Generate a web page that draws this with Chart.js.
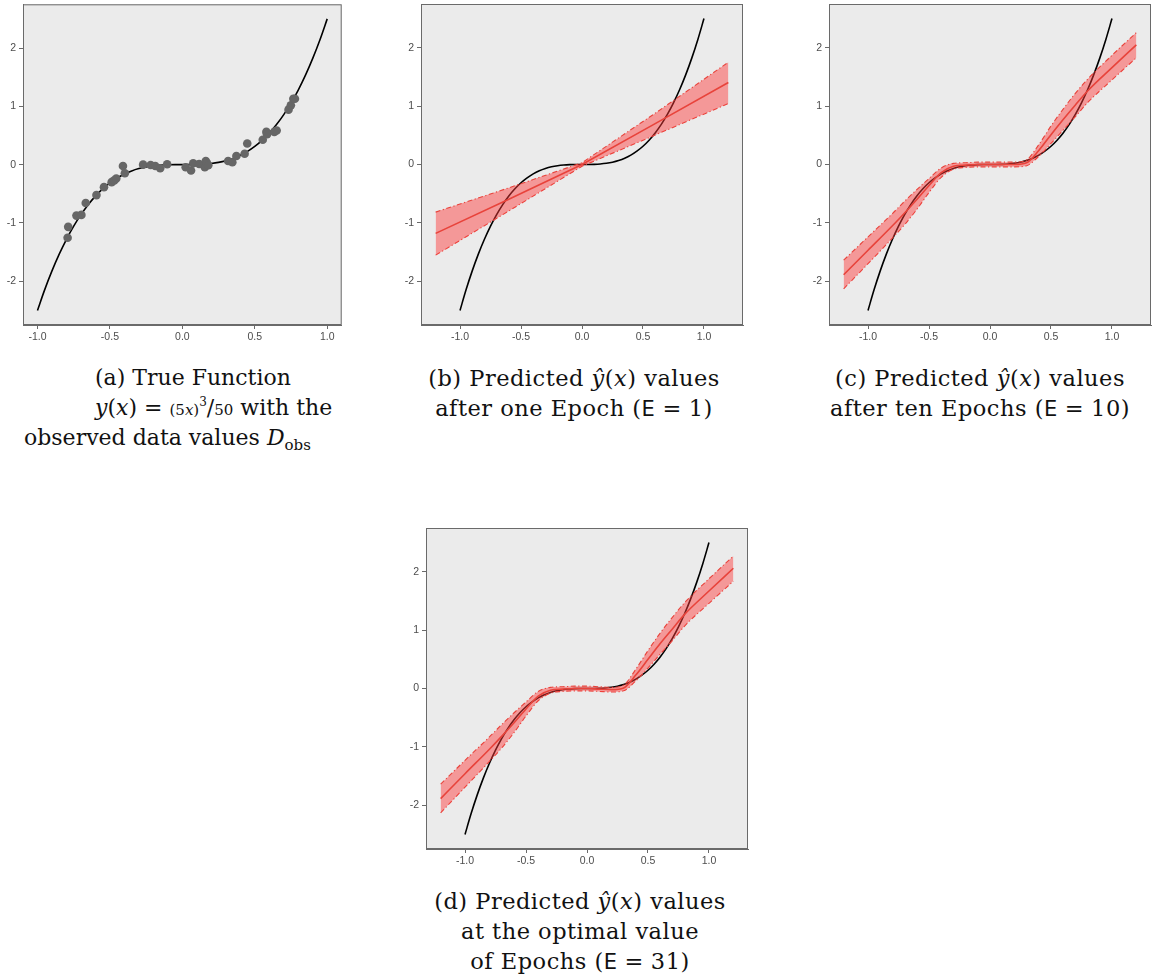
<!DOCTYPE html>
<html>
<head>
    <title>Epoch comparison</title>
    <style>
        html, body { margin: 0; padding: 0; background: #fff; overflow: hidden; }
        body { width: 1152px; height: 980px; position: relative; }
        .panel { position: absolute; }
        .cap { position: absolute; text-align: center; font-family: "DejaVu Serif", serif; font-size: 22.5px; letter-spacing: 0.5px; color: #111; white-space: nowrap; }
        .cap div { height: 30px; line-height: 30px; }
        .cap.left { text-align: left; font-size: 22px; letter-spacing: 0; }
        .cap.left div { position: absolute; }
        .cap i { font-style: italic; }
        .sans { font-family: "DejaVu Sans", sans-serif; font-size: 21px; }
        .eq { margin: 0 7px; }
        .sm { font-size: 15px; }
        .cap sub { font-size: 15px; vertical-align: -5px; line-height: 0; }
        .cap sup { font-size: 12px; vertical-align: 9px; line-height: 0; }
    </style>
</head>
<body>
    <div class="panel" id="pa"><canvas id="chartA"></canvas></div>
    <div class="panel" id="pb"><canvas id="chartB"></canvas></div>
    <div class="panel" id="pc"><canvas id="chartC"></canvas></div>
    <div class="panel" id="pd"><canvas id="chartD"></canvas></div>

    <div class="cap left" style="left:0px; top:363px; width:360px;">
        <div style="left:95px; top:0px;">(a) True Function</div>
        <div style="left:95px; top:30px;"><i>y</i>(<i>x</i>)<span class="eq">=</span><span class="sm">(5<i>x</i>)</span><sup>3</sup>/<span class="sm">50</span> with the</div>
        <div style="left:24px; top:60px;">observed data values <i>D</i><sub>obs</sub></div>
    </div>
    <div class="cap" style="left:374px; top:363px; width:400px;">
        <div>(b) Predicted <i>ŷ</i>(<i>x</i>) values</div>
        <div>after one Epoch (<span class="sans">E</span><span class="eq">=</span>1)</div>
    </div>
    <div class="cap" style="left:780px; top:363px; width:400px;">
        <div>(c) Predicted <i>ŷ</i>(<i>x</i>) values</div>
        <div>after ten Epochs (<span class="sans">E</span><span class="eq">=</span>10)</div>
    </div>
    <div class="cap" style="left:380px; top:886px; width:400px;">
        <div>(d) Predicted <i>ŷ</i>(<i>x</i>) values</div>
        <div>at the optimal value</div>
        <div>of Epochs (<span class="sans">E</span><span class="eq">=</span>31)</div>
    </div>

    <script src="https://cdn.jsdelivr.net/npm/chart.js"></script>
    <script>
        // true function y = (5x)^3 / 50, sampled on [-1, 1]
        const curveX = [-1.0, -0.95, -0.9, -0.85, -0.8, -0.75, -0.7, -0.65, -0.6, -0.55, -0.5, -0.45, -0.4, -0.35, -0.3, -0.25, -0.2, -0.15, -0.1, -0.05,
                        0.0, 0.05, 0.1, 0.15, 0.2, 0.25, 0.3, 0.35, 0.4, 0.45, 0.5, 0.55, 0.6, 0.65, 0.7, 0.75, 0.8, 0.85, 0.9, 0.95, 1.0];
        const curveY = [-2.5, -2.143, -1.8225, -1.535, -1.28, -1.055, -0.8575, -0.687, -0.54, -0.416, -0.3125, -0.228, -0.16, -0.107, -0.0675, -0.039, -0.02, -0.0084, -0.0025, -0.0003,
                        0.0, 0.0003, 0.0025, 0.0084, 0.02, 0.039, 0.0675, 0.107, 0.16, 0.228, 0.3125, 0.416, 0.54, 0.687, 0.8575, 1.055, 1.28, 1.535, 1.8225, 2.143, 2.5];

        // observed (noisy) samples
        const obsX = [-0.792, -0.788, -0.731, -0.697, -0.667, -0.593, -0.541, -0.488, -0.470, -0.456, -0.410, -0.397, -0.271, -0.219, -0.187, -0.153, -0.105,
                      0.023, 0.060, 0.075, 0.116, 0.162, 0.155, 0.170, 0.179, 0.316, 0.345, 0.373, 0.430, 0.448, 0.555, 0.580, 0.585, 0.635, 0.651, 0.733, 0.749, 0.766, 0.777];
        const obsY = [-1.254, -1.067, -0.874, -0.862, -0.658, -0.522, -0.386, -0.300, -0.270, -0.238, -0.022, -0.147, 0.0, -0.005, -0.022, -0.062, 0.007,
                      -0.045, -0.100, 0.023, 0.012, 0.063, -0.045, 0.025, -0.010, 0.063, 0.040, 0.148, 0.188, 0.364, 0.426, 0.562, 0.523, 0.562, 0.586, 0.943, 1.017, 1.131, 1.131];

        // prediction after 1 epoch: mean and band
        const bandX1 = [-1.2, -0.6, 0.0, 0.6, 1.2];
        const mean1  = [-1.18, -0.595, 0.0, 0.70, 1.406];
        const upper1 = [-0.816, -0.40, 0.03, 0.878, 1.752];
        const lower1 = [-1.553, -0.796, -0.03, 0.505, 1.044];

        // prediction after 10 epochs
        const bandX10 = [-1.2, -1.0, -0.8, -0.7, -0.6, -0.5, -0.4, -0.3, -0.2, -0.1, 0.0, 0.1, 0.2, 0.3, 0.4, 0.5, 0.6, 0.7, 0.8, 1.0, 1.2];
        const mean10  = [-1.89, -1.47, -1.05, -0.83, -0.60, -0.36, -0.14, -0.03, -0.01, 0.0, 0.0, 0.0, 0.0, 0.03, 0.24, 0.51, 0.77, 1.02, 1.26, 1.66, 2.05];
        const upper10 = [-1.64, -1.24, -0.84, -0.63, -0.43, -0.24, -0.06, 0.02, 0.03, 0.04, 0.04, 0.04, 0.04, 0.08, 0.34, 0.66, 0.95, 1.22, 1.46, 1.87, 2.26];
        const lower10 = [-2.13, -1.70, -1.26, -1.03, -0.77, -0.48, -0.22, -0.08, -0.05, -0.04, -0.04, -0.04, -0.04, -0.02, 0.14, 0.36, 0.59, 0.82, 1.06, 1.45, 1.83];

        // prediction at epoch 31
        const bandX31 = [-1.2, -1.0, -0.8, -0.7, -0.6, -0.5, -0.4, -0.3, -0.2, -0.1, 0.0, 0.1, 0.2, 0.3, 0.4, 0.5, 0.6, 0.7, 0.8, 1.0, 1.2];
        const mean31  = [-1.886, -1.46, -1.04, -0.82, -0.59, -0.35, -0.13, -0.03, -0.01, 0.0, 0.0, -0.01, -0.02, 0.01, 0.23, 0.50, 0.77, 1.02, 1.27, 1.67, 2.06];
        const upper31 = [-1.64, -1.23, -0.83, -0.62, -0.42, -0.23, -0.05, 0.02, 0.03, 0.04, 0.04, 0.03, 0.02, 0.06, 0.33, 0.65, 0.95, 1.22, 1.47, 1.88, 2.27];
        const lower31 = [-2.13, -1.69, -1.25, -1.02, -0.76, -0.47, -0.21, -0.08, -0.05, -0.04, -0.04, -0.05, -0.06, -0.04, 0.13, 0.35, 0.59, 0.82, 1.07, 1.46, 1.84];

        const xTickVals = [-1.0, -0.5, 0.0, 0.5, 1.0];
        const yTickVals = [-2, -1, 0, 1, 2];

        const RED = '#e8433b';
        const BAND_FILL = 'rgba(255, 60, 60, 0.47)';
        const DOT = '#666666';

        const pts = (xs, ys) => xs.map((x, i) => ({ x: x, y: ys[i] }));

        // grey panel background + box frame
        const framePlugin = {
            id: 'frame',
            beforeDraw(chart) {
                const a = chart.chartArea, ctx = chart.ctx;
                ctx.save();
                ctx.fillStyle = '#ebebeb';
                ctx.fillRect(a.left, a.top, a.right - a.left, a.bottom - a.top);
                ctx.restore();
            },
            afterDraw(chart) {
                const a = chart.chartArea, ctx = chart.ctx;
                ctx.save();
                ctx.strokeStyle = '#6a6a6a';
                ctx.lineWidth = 1;
                ctx.strokeRect(a.left + 0.5, a.top + 0.5, a.right - a.left - 1, a.bottom - a.top - 1);
                ctx.restore();
            }
        };

        function curveSet() {
            return { data: pts(curveX, curveY), borderColor: '#000', borderWidth: 1.6, pointRadius: 0, cubicInterpolationMode: 'monotone', fill: false };
        }

        function bandSets(xs, mean, upper, lower, smooth) {
            const dash = [5, 2.5, 1.2, 2.5];
            const common = { pointRadius: 0, cubicInterpolationMode: smooth ? 'monotone' : 'default', tension: 0 };
            return [
                Object.assign({ data: pts(xs, mean), borderColor: RED, borderWidth: 1.6, fill: false }, common),
                Object.assign({ data: pts(xs, upper), borderColor: RED, borderWidth: 1.1, borderDash: dash, fill: '+1', backgroundColor: BAND_FILL }, common),
                Object.assign({ data: pts(xs, lower), borderColor: RED, borderWidth: 1.1, borderDash: dash, fill: false }, common)
            ];
        }

        // no extra room for edge labels, the plot box is placed exactly
        function noPad(s) {
            s.paddingLeft = 0; s.paddingRight = 0; s.paddingTop = 0; s.paddingBottom = 0;
        }

        // area: plot rectangle in page pixels, xr: x axis range
        function makePanel(wrapId, canvasId, area, xr, datasets) {
            const padL = 30, padT = 4, padB = 25, padR = 1;
            const wrap = document.getElementById(wrapId);
            wrap.style.left = (area.left - padL) + 'px';
            wrap.style.top = (area.top - padT) + 'px';
            const cv = document.getElementById(canvasId);
            cv.width = area.width + padL + padR;
            cv.height = area.height + padT + padB;
            const tickFont = { family: '"Liberation Sans", Arial, sans-serif', size: 10.5 };
            const gridOpts = { display: true, drawOnChartArea: false, drawTicks: true, tickLength: 4, color: '#6a6a6a' };
            return new Chart(cv, {
                type: 'line',
                data: { datasets: datasets },
                options: {
                    responsive: false,
                    animation: false,
                    layout: { padding: { top: padT, right: padR, left: 0, bottom: 0 } },
                    plugins: { legend: { display: false }, tooltip: { enabled: false } },
                    scales: {
                        x: {
                            type: 'linear', min: -xr, max: xr,
                            afterBuildTicks: s => { s.ticks = xTickVals.map(v => ({ value: v })); },
                            afterFit: s => { s.height = padB; noPad(s); },
                            ticks: { color: '#4d4d4d', font: tickFont, padding: 2, maxRotation: 0, callback: v => v.toFixed(1) },
                            grid: gridOpts,
                            border: { display: true, color: '#6a6a6a' }
                        },
                        y: {
                            type: 'linear', min: -2.75, max: 2.75,
                            afterBuildTicks: s => { s.ticks = yTickVals.map(v => ({ value: v })); },
                            afterFit: s => { s.width = padL; noPad(s); },
                            ticks: { color: '#4d4d4d', font: tickFont, padding: 3, callback: v => String(v) },
                            grid: gridOpts,
                            border: { display: true, color: '#6a6a6a' }
                        }
                    }
                },
                plugins: [framePlugin]
            });
        }

        makePanel('pa', 'chartA', { left: 23, top: 4, width: 322, height: 321 }, 1.1, [
            { data: pts(obsX, obsY), showLine: false, pointRadius: 4.3, pointBackgroundColor: DOT, pointBorderWidth: 0, borderColor: DOT },
            curveSet()
        ]);

        makePanel('pb', 'chartB', { left: 421, top: 4, width: 322, height: 321 }, 1.32,
            bandSets(bandX1, mean1, upper1, lower1, false).concat([curveSet()]));

        makePanel('pc', 'chartC', { left: 829, top: 4, width: 322, height: 321 }, 1.32,
            bandSets(bandX10, mean10, upper10, lower10, true).concat([curveSet()]));

        makePanel('pd', 'chartD', { left: 426, top: 528, width: 322, height: 321 }, 1.32,
            bandSets(bandX31, mean31, upper31, lower31, true).concat([curveSet()]));
    </script>
</body>
</html>
